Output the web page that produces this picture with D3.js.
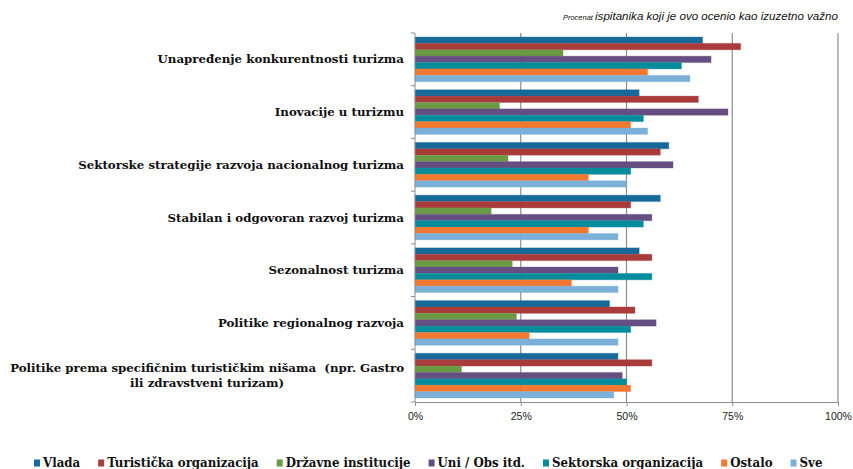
<!DOCTYPE html>
<html>
<head>
<meta charset="utf-8">
<script src="https://cdn.jsdelivr.net/npm/d3@7"></script>
<style>
  body { margin: 0; background: #fff; }
  .catLabel { font-family: "DejaVu Serif", Georgia, serif; font-weight: bold; font-size: 11.8px; fill: #111; white-space: pre; }
  .tick text { font-family: "Liberation Sans", Arial, sans-serif; font-size: 10.5px; fill: #222; }
  .legendText { font-family: "DejaVu Serif", Georgia, serif; font-weight: bold; font-size: 12px; fill: #111; }
</style>
</head>
<body>
<div id="chart"></div>
<script>
// chart size
var svgWidth = 853;
var svgHeight = 469;

// categories (top to bottom)
var categories = [
    "Unapređenje konkurentnosti turizma",
    "Inovacije u turizmu",
    "Sektorske strategije razvoja nacionalnog turizma",
    "Stabilan i odgovoran razvoj turizma",
    "Sezonalnost turizma",
    "Politike regionalnog razvoja",
    "Politike prema specifičnim turističkim nišama  (npr. Gastro|ili zdravstveni turizam)"
];

// series names
var seriesNames = ["Vlada", "Turistička organizacija", "Državne institucije", "Uni / Obs itd.", "Sektorska organizacija", "Ostalo", "Sve"];

// values in percent, one array per series (same order as categories)
var vlada      = [68, 53, 60, 58, 53, 46, 48];
var turisticka = [77, 67, 58, 51, 56, 52, 56];
var drzavne    = [35, 20, 22, 18, 23, 24, 11];
var uni        = [70, 74, 61, 56, 48, 57, 49];
var sektorska  = [63, 54, 51, 54, 56, 51, 50];
var ostalo     = [55, 51, 41, 41, 37, 27, 51];
var sve        = [65, 55, 50, 48, 48, 48, 47];

var seriesValues = [vlada, turisticka, drzavne, uni, sektorska, ostalo, sve];
var colors = ["#156a9a", "#a93b3b", "#6a9a42", "#654f82", "#028c9c", "#f27830", "#7bb0d8"];

var xTicks = [0, 0.25, 0.5, 0.75, 1];

// build rows for drawing
var rows = categories.map((c, i) => ({
    category: c,
    values: seriesNames.map((s, j) => ({ series: s, value: seriesValues[j][i] / 100, color: colors[j] }))
}));

var svg = d3.select("#chart")
    .append("svg")
    .attr("width", svgWidth)
    .attr("height", svgHeight);

// plot area
var plot = { left: 415, right: 838, top: 33, bottom: 402 };

var xScale = d3.scaleLinear()
    .domain([0, 1])
    .range([plot.left, plot.right]);

var yScale = d3.scaleBand()
    .domain(categories)
    .range([plot.top, plot.bottom])
    .padding(0);

var innerScale = d3.scaleBand()
    .domain(seriesNames)
    .range([4, yScale.bandwidth() - 4])
    .padding(0);

// gridlines
svg.append("g")
    .selectAll("line")
    .data(xTicks.slice(1))
    .enter()
    .append("line")
    .attr("x1", d => xScale(d))
    .attr("x2", d => xScale(d))
    .attr("y1", plot.top)
    .attr("y2", plot.bottom)
    .attr("stroke", "#8c8c8c")
    .attr("stroke-width", 1.2);

// bars
var groups = svg.append("g")
    .selectAll("g")
    .data(rows)
    .enter()
    .append("g")
    .attr("transform", d => `translate(0, ${yScale(d.category)})`);

groups.selectAll("rect")
    .data(d => d.values)
    .enter()
    .append("rect")
    .attr("x", xScale(0))
    .attr("y", d => innerScale(d.series))
    .attr("width", d => xScale(d.value) - xScale(0))
    .attr("height", innerScale.bandwidth())
    .attr("fill", d => d.color)
    .attr("stroke", d => d.color)
    .attr("stroke-opacity", 0.25)
    .attr("stroke-width", 1.2);

// bottom axis
var bottomAxis = d3.axisBottom(xScale)
    .tickValues(xTicks)
    .tickFormat(d3.format(".0%"))
    .tickSize(4)
    .tickSizeOuter(0);

var xAxisG = svg.append("g")
    .attr("transform", `translate(0, ${plot.bottom})`)
    .call(bottomAxis);
xAxisG.select(".domain").attr("stroke", "#8c8c8c");
xAxisG.selectAll(".tick line").attr("stroke", "#8c8c8c");
xAxisG.selectAll(".tick text").attr("dy", "1.05em");

// left axis line with ticks at band edges
svg.append("line")
    .attr("x1", plot.left).attr("x2", plot.left)
    .attr("y1", plot.top).attr("y2", plot.bottom)
    .attr("stroke", "#8c8c8c");

svg.append("g")
    .selectAll("line")
    .data(categories.concat(["end"]))
    .enter()
    .append("line")
    .attr("x1", plot.left - 4)
    .attr("x2", plot.left)
    .attr("y1", (d, i) => plot.top + i * yScale.bandwidth())
    .attr("y2", (d, i) => plot.top + i * yScale.bandwidth())
    .attr("stroke", "#8c8c8c");

// category labels
var labelRight = 404;
svg.append("g")
    .selectAll("text")
    .data(categories)
    .enter()
    .append("text")
    .attr("class", "catLabel")
    .each(function(d) {
        var lines = d.split("|");
        var t = d3.select(this);
        var cy = yScale(d) + yScale.bandwidth() / 2;
        if (lines.length === 1) {
            t.attr("x", labelRight).attr("y", cy + 4).attr("text-anchor", "end").text(d);
        } else {
            // multi-line: centered block, right-aligned overall
            t.attr("text-anchor", "middle");
            var first = t.append("tspan").text(lines[0]);
            var w = first.node().getComputedTextLength();
            var mid = labelRight - w / 2;
            first.attr("x", mid).attr("y", cy - 4);
            t.append("tspan").attr("x", mid).attr("y", cy + 11).text(lines[1]);
        }
    });

// title
var title = svg.append("text")
    .attr("x", 838)
    .attr("y", 20)
    .attr("text-anchor", "end")
    .attr("font-family", "'Liberation Sans', Arial, sans-serif")
    .attr("font-style", "italic")
    .attr("fill", "#111");
title.append("tspan").attr("font-size", "7.5px").text("Procenat ");
title.append("tspan").attr("font-size", "11.6px").text("ispitanika koji je ovo ocenio kao izuzetno važno");

// legend, fitted to the reference span
var legendStart = 34, legendEnd = 823, markerW = 6, markerGap = 3, itemGap = 18;
var legend = svg.append("g");
var texts = seriesNames.map(name => legend.append("text").attr("class", "legendText").text(name));
var rawWidth = d3.sum(texts, t => t.node().getComputedTextLength());
var fixedWidth = seriesNames.length * (markerW + markerGap) + (seriesNames.length - 1) * itemGap;
var legendScaleX = (legendEnd - legendStart - fixedWidth) / rawWidth;
var cursor = legendStart;
texts.forEach((t, i) => {
    legend.append("rect")
        .attr("x", cursor)
        .attr("y", 459.5)
        .attr("width", markerW)
        .attr("height", 7)
        .attr("fill", colors[i]);
    t.attr("transform", `translate(${cursor + markerW + markerGap}, 466.5) scale(${legendScaleX}, 1)`);
    cursor += markerW + markerGap + t.node().getComputedTextLength() * legendScaleX + itemGap;
});
</script>
</body>
</html>
